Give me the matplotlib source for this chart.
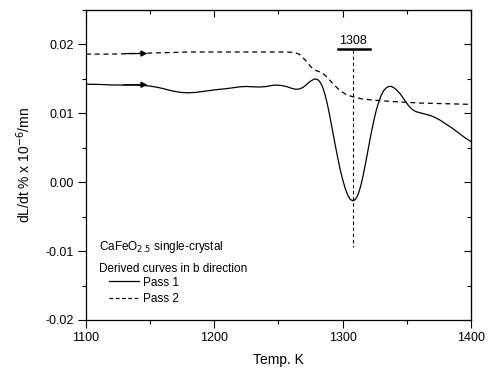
import matplotlib
matplotlib.use("Agg")
import matplotlib.pyplot as plt
from matplotlib.lines import Line2D

plt.rcParams['font.family'] = ['Liberation Sans', 'DejaVu Sans']

# Pass 1 (solid)
T1 = [1100, 1110, 1120, 1130, 1140, 1145, 1150, 1155, 1160, 1165, 1170, 1175,
      1180, 1185, 1190, 1200, 1210, 1220, 1225, 1230, 1235, 1240, 1245, 1248,
      1252, 1256, 1260, 1263, 1266, 1269, 1272, 1275, 1278, 1280, 1282, 1284,
      1286, 1288, 1290, 1292, 1294, 1296, 1298, 1300, 1302, 1304, 1306, 1308,
      1310, 1312, 1314, 1316, 1318, 1320, 1322, 1324, 1326, 1328, 1330, 1332,
      1334, 1336, 1338, 1340, 1342, 1345, 1348, 1351, 1354, 1357, 1360, 1364,
      1368, 1372, 1376, 1380, 1385, 1390, 1395, 1400]
P1 = [0.01423, 0.0142, 0.01412, 0.0141, 0.0141, 0.01405, 0.01395, 0.0138, 0.0136,
      0.01335, 0.01315, 0.01302, 0.01298, 0.01303, 0.01315, 0.0134, 0.0136, 0.01385,
      0.0139, 0.01385, 0.01382, 0.01388, 0.01405, 0.0141, 0.01405, 0.0139, 0.01365,
      0.0135, 0.01352, 0.01375, 0.0142, 0.01468, 0.01498, 0.01495, 0.01465, 0.0140,
      0.0129, 0.0114, 0.0096, 0.0076, 0.0056, 0.0037, 0.0019, 0.0004, -0.0009,
      -0.0019, -0.0025, -0.0027, -0.0025, -0.0018, -0.0006, 0.0010, 0.0029, 0.0049,
      0.0069, 0.0087, 0.0103, 0.0116, 0.0126, 0.0133, 0.0137, 0.0139, 0.0139,
      0.0137, 0.0134, 0.0128, 0.0120, 0.0112, 0.0106, 0.01025, 0.0101, 0.0099,
      0.0097, 0.0094, 0.0090, 0.0085, 0.0079, 0.0072, 0.0065, 0.0059]

# Pass 2 (dashed)
T2 = [1100, 1120, 1140, 1160, 1180, 1200, 1220, 1240, 1255, 1262, 1266, 1269,
      1272, 1275, 1278, 1281, 1284, 1287, 1290, 1294, 1298, 1303, 1308, 1315,
      1325, 1340, 1360, 1380, 1400]
P2 = [0.0186, 0.0186, 0.0187, 0.0188, 0.0189, 0.0189, 0.0189, 0.0189, 0.0189,
      0.01885, 0.0186, 0.0181, 0.0175, 0.0168, 0.0163, 0.0161, 0.0159, 0.0154,
      0.0148, 0.0140, 0.0133, 0.0127, 0.0124, 0.0121, 0.0119, 0.0117, 0.0115,
      0.0114, 0.0113]

peak_T = 1308
peak_label = "1308"

fig = plt.figure(figsize=(4.95, 3.72), dpi=100)
ax = fig.add_axes([0.1737, 0.1398, 0.7778, 0.8333])

ax.plot(T1, P1, color='black', lw=0.9)
ax.plot(T2, P2, color='black', lw=0.9, dashes=(4, 3))

# direction arrows
ax.annotate('', xy=(1150, 0.01415), xytext=(1127, 0.01415),
            arrowprops=dict(arrowstyle='-|>', color='black', lw=0.9, mutation_scale=9))
ax.annotate('', xy=(1150, 0.01868), xytext=(1128, 0.01868),
            arrowprops=dict(arrowstyle='-|>', color='black', lw=0.9, mutation_scale=9))

# peak marker
ax.plot([peak_T, peak_T], [0.0192, -0.0094], color='black', lw=0.8, dashes=(3, 2.5))
ax.plot([1296, 1321], [0.01935, 0.01935], color='black', lw=1.8)
ax.text(peak_T, 0.01965, peak_label, ha='center', va='bottom', fontsize=9)

ax.set_xlim(1100, 1400)
ax.set_ylim(-0.02, 0.025)
ax.set_xticks([1100, 1200, 1300, 1400])
ax.set_xticks([1150, 1250, 1350], minor=True)
ax.set_yticks([-0.02, -0.01, 0.00, 0.01, 0.02])
ax.set_yticks([-0.015, -0.005, 0.005, 0.015, 0.025], minor=True)
ax.set_yticklabels(['-0.02', '-0.01', '0.00', '0.01', '0.02'])
ax.tick_params(which='major', direction='out', length=5.5, width=0.8, labelsize=9)
ax.tick_params(which='minor', direction='out', length=3, width=0.8)

top = ax.secondary_xaxis('top')
top.set_xticks([1100, 1200, 1300, 1400])
top.set_xticks([1150, 1250, 1350], minor=True)
top.tick_params(which='major', direction='in', length=5, width=0.8, labeltop=False)
top.tick_params(which='minor', direction='in', length=3, width=0.8)
right = ax.secondary_yaxis('right')
right.set_yticks([-0.02, -0.01, 0.00, 0.01, 0.02])
right.set_yticks([-0.015, -0.005, 0.005, 0.015, 0.025], minor=True)
right.tick_params(which='major', direction='in', length=5, width=0.8, labelright=False)
right.tick_params(which='minor', direction='in', length=3, width=0.8)

for s in ax.spines.values():
    s.set_linewidth(0.9)

ax.set_xlabel("Temp. K", fontsize=10, labelpad=6)
ax.set_ylabel("dL/dt % x 10$^{-6}$/mn", fontsize=10, labelpad=9)

ax.text(0.034, 0.236, "CaFeO$_{2.5}$ single-crystal", transform=ax.transAxes,
        fontsize=8.5, va='center')
ax.text(0.034, 0.166, "Derived curves in b direction", transform=ax.transAxes,
        fontsize=8.5, va='center')
handles = [Line2D([], [], color='black', lw=0.9),
           Line2D([], [], color='black', lw=0.9, dashes=(3, 2))]
ax.legend(handles, ["Pass 1", "Pass 2"], loc='upper left', bbox_to_anchor=(0.06, 0.14),
          frameon=False, fontsize=8.5, handlelength=2.5, handletextpad=0.4,
          labelspacing=0.4, borderpad=0, borderaxespad=0)

fig.savefig("out.png", dpi=100)
